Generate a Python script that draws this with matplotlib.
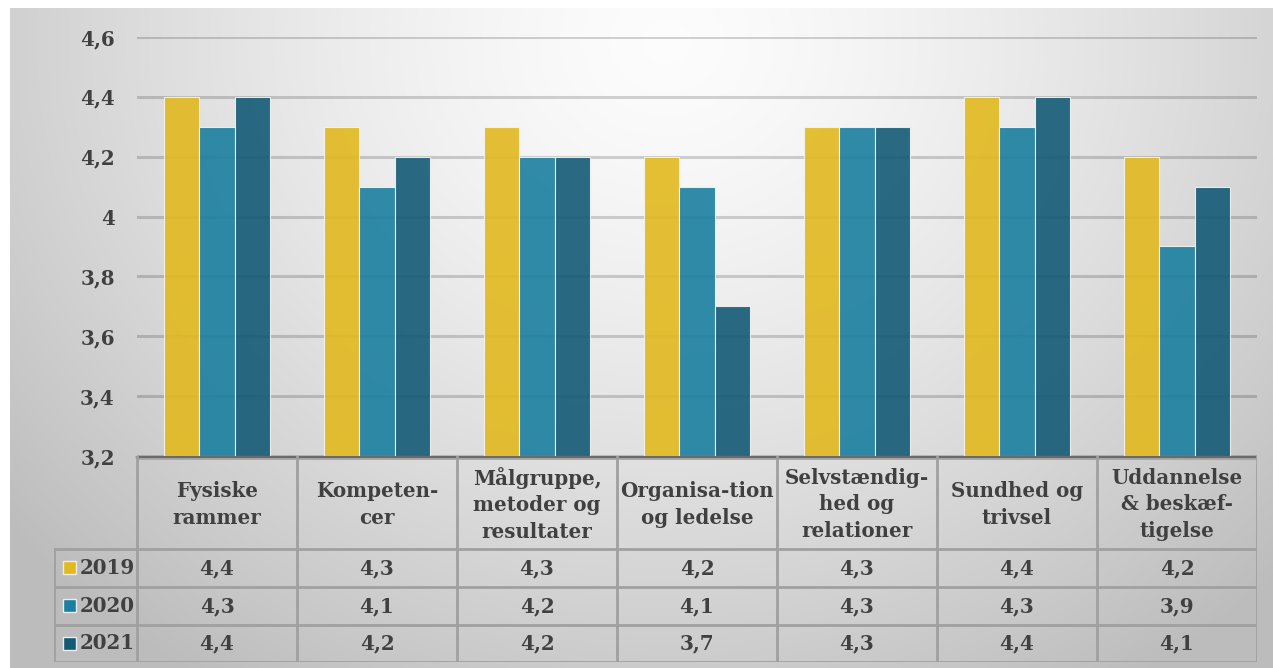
import numpy as np
import matplotlib
matplotlib.use("Agg")
import matplotlib.pyplot as plt
from matplotlib.patches import Rectangle

categories = [
    "Fysiske\nrammer",
    "Kompeten-\ncer",
    "Målgruppe,\nmetoder og\nresultater",
    "Organisa-tion\nog ledelse",
    "Selvstændig-\nhed og\nrelationer",
    "Sundhed og\ntrivsel",
    "Uddannelse\n& beskæf-\ntigelse",
]
years = ["2019", "2020", "2021"]
v2019 = [4.4, 4.3, 4.3, 4.2, 4.3, 4.4, 4.2]
v2020 = [4.3, 4.1, 4.2, 4.1, 4.3, 4.3, 3.9]
v2021 = [4.4, 4.2, 4.2, 3.7, 4.3, 4.4, 4.1]
y_ticks = [3.2, 3.4, 3.6, 3.8, 4.0, 4.2, 4.4, 4.6]
y_tick_labels = ["3,2", "3,4", "3,6", "3,8", "4", "4,2", "4,4", "4,6"]

series = [v2019, v2020, v2021]
colors = ["#e2b91f", "#1a7fa0", "#135a75"]
text_color = "#404040"
FONT = "DejaVu Serif"
FS = 14.3

W, H = 1273, 668
fig = plt.figure(figsize=(W / 100, H / 100), dpi=100)
fig.patch.set_facecolor("white")

# radial gray background, brightest near the top centre
bg = fig.add_axes([10 / W, 0, 1 - 10 / W, 1 - 8 / H])
bg.set_axis_off()
ny, nx = 300, 600
yy, xx = np.mgrid[0:1:ny * 1j, 0:1:nx * 1j]
d = np.sqrt(((xx - 0.52) / 0.62) ** 2 + ((yy - 0.05) / 1.05) ** 2)
val = np.clip(0.99 - 0.22 * d ** 1.4, 0.74, 0.99)
bg.imshow(np.dstack([val, val, val]), aspect="auto", extent=[0, 1, 1, 0],
          interpolation="bicubic")
bg.set_xlim(0, 1)
bg.set_ylim(1, 0)

# main bar chart
x0, x1 = 137, 1257
ytop, ybot = 37, 456
ax = fig.add_axes([x0 / W, (H - ybot) / H, (x1 - x0) / W, (ybot - ytop) / H])
ax.patch.set_alpha(0)
n = len(categories)
xs = np.arange(n)
bw = 0.222
for k, (vals, c) in enumerate(zip(series, colors)):
    ax.bar(xs + (k - 1) * bw, np.array(vals) - 3.2, bottom=3.2, width=bw,
           color=c, alpha=0.9, edgecolor="#f4f4f4", linewidth=0.8, zorder=2)
ax.set_xlim(-0.5, n - 0.5)
ax.set_ylim(3.2, 4.6)
ax.set_yticks(y_ticks)
ax.set_yticklabels(y_tick_labels, fontsize=FS, fontweight="bold",
                   color=text_color, family=FONT)
ax.tick_params(axis="y", length=0, pad=16)
ax.set_xticks([])
ax.yaxis.grid(True, color="black", alpha=0.17, linewidth=2.2, zorder=0)
ax.set_axisbelow(True)
for s in ax.spines.values():
    s.set_visible(False)

# data table below the plot
tab_top, tab_bot = 456, 662
leg_left = 54
cw = (x1 - x0) / n
tx0 = -0.5 - (x0 - leg_left) / cw
tax = fig.add_axes([leg_left / W, (H - tab_bot) / H, (x1 - leg_left) / W,
                    (tab_bot - tab_top) / H])
tax.set_axis_off()
tax.set_xlim(tx0, n - 0.5)
tax.set_ylim(tab_bot, tab_top)
row_lines = [tab_top, 549, 587, 625, tab_bot]
grid_c = "#a0a0a0"
lw = 2.0
# horizontal lines
tax.plot([-0.5, n - 0.5], [tab_top, tab_top], color="#6a6a6a", lw=2.5)
tax.plot([-0.5, n - 0.5], [tab_top + 3, tab_top + 3], color=grid_c, lw=1.2)
tax.plot([-0.5, n - 0.5], [549, 549], color=grid_c, lw=lw)
for yl in row_lines[2:]:
    tax.plot([tx0, n - 0.5], [yl, yl], color=grid_c, lw=lw)
tax.plot([tx0, -0.5], [549, 549], color=grid_c, lw=lw)
# vertical lines
for i in range(n + 1):
    tax.plot([i - 0.5, i - 0.5], [tab_top, tab_bot], color=grid_c, lw=lw)
tax.plot([tx0, tx0], [549, tab_bot], color=grid_c, lw=lw)

# header labels
for i, lab in enumerate(categories):
    tax.text(i, (tab_top + 549) / 2 + 2, lab, ha="center", va="center",
             fontsize=FS, fontweight="bold", color=text_color, family=FONT,
             linespacing=1.42)
# value rows with legend keys
for r, (yr, vals, c) in enumerate(zip(years, series, colors)):
    yc = (row_lines[r + 1] + row_lines[r + 2]) / 2
    tax.add_patch(Rectangle((tx0 + 9 / cw, yc - 6.5), 13 / cw, 13,
                            facecolor=c, edgecolor="#ececec", lw=1.0))
    tax.text(tx0 + 26 / cw, yc, yr, ha="left", va="center", fontsize=FS,
             fontweight="bold", color=text_color, family=FONT)
    for i, v in enumerate(vals):
        tax.text(i, yc, f"{v:.1f}".replace(".", ","), ha="center",
                 va="center", fontsize=FS, fontweight="bold",
                 color=text_color, family=FONT)

fig.savefig("out.png", dpi=100)
